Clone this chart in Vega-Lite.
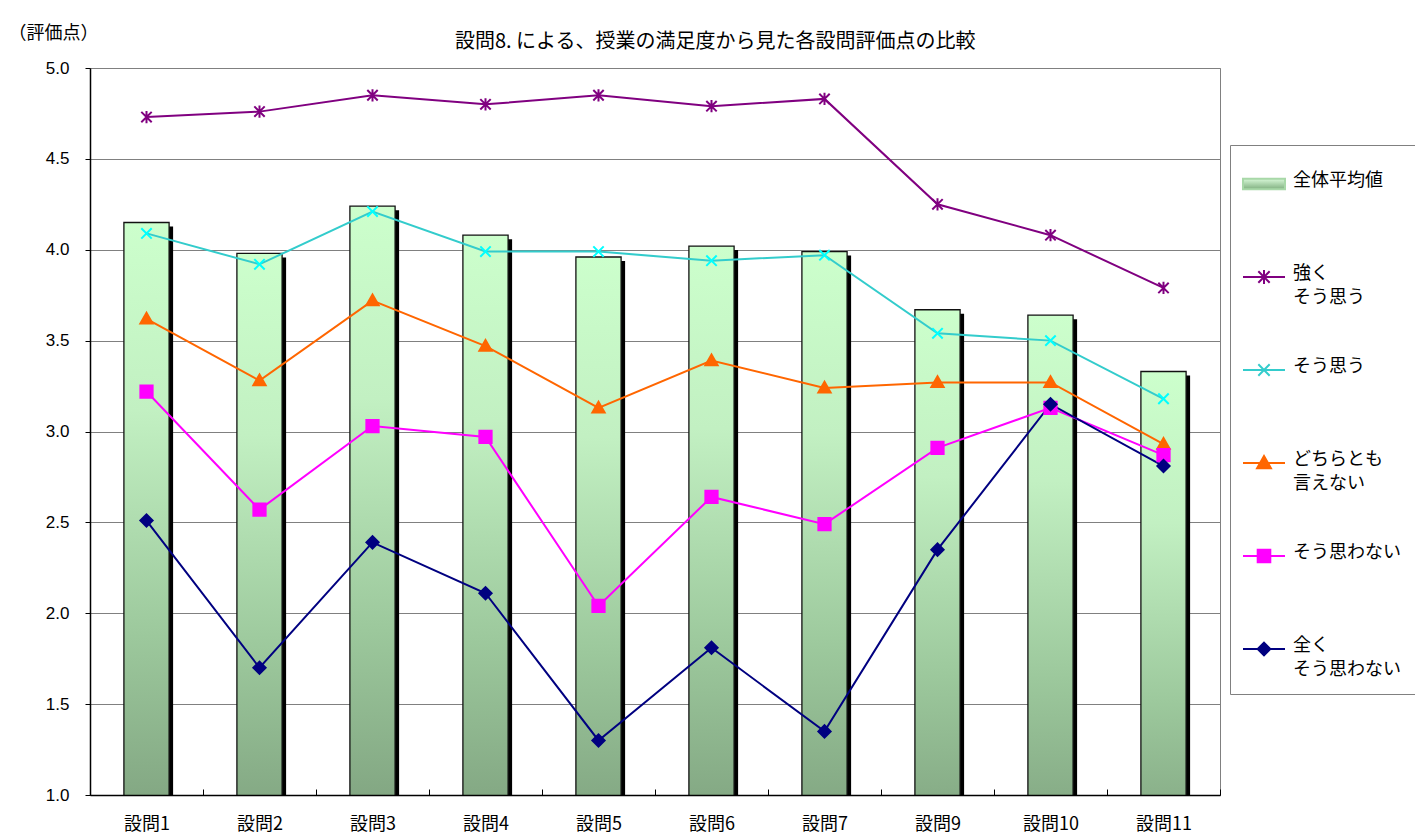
{
  "$schema": "https://vega.github.io/schema/vega-lite/v6.json",
  "width": 1130,
  "height": 727,
  "autosize": "none",
  "padding": {"left": 90, "top": 68, "right": 195, "bottom": 44},
  "background": "white",
  "config": {
    "font": "Noto Sans CJK JP",
    "view": {"stroke": "#808080", "strokeWidth": 1}
  },
  "title": {
    "text": "設問8. による、授業の満足度から見た各設問評価点の比較",
    "fontSize": 20,
    "fontWeight": "normal",
    "color": "#000",
    "anchor": "middle",
    "frame": "bounds",
    "baseline": "middle",
    "dx": 3,
    "dy": 38,
    "offset": 0
  },
  "datasets": {
    "avg": [
      {"q": "設問1", "v": 4.15},
      {"q": "設問2", "v": 3.98},
      {"q": "設問3", "v": 4.24},
      {"q": "設問4", "v": 4.08},
      {"q": "設問5", "v": 3.96},
      {"q": "設問6", "v": 4.02},
      {"q": "設問7", "v": 3.99},
      {"q": "設問9", "v": 3.67},
      {"q": "設問10", "v": 3.64},
      {"q": "設問11", "v": 3.33}
    ],
    "lines": [
      {"q": "設問1", "s": "強くそう思う", "v": 4.73},
      {"q": "設問2", "s": "強くそう思う", "v": 4.76},
      {"q": "設問3", "s": "強くそう思う", "v": 4.85},
      {"q": "設問4", "s": "強くそう思う", "v": 4.80},
      {"q": "設問5", "s": "強くそう思う", "v": 4.85},
      {"q": "設問6", "s": "強くそう思う", "v": 4.79},
      {"q": "設問7", "s": "強くそう思う", "v": 4.83},
      {"q": "設問9", "s": "強くそう思う", "v": 4.25},
      {"q": "設問10", "s": "強くそう思う", "v": 4.08},
      {"q": "設問11", "s": "強くそう思う", "v": 3.79},
      {"q": "設問1", "s": "そう思う", "v": 4.09},
      {"q": "設問2", "s": "そう思う", "v": 3.92},
      {"q": "設問3", "s": "そう思う", "v": 4.21},
      {"q": "設問4", "s": "そう思う", "v": 3.99},
      {"q": "設問5", "s": "そう思う", "v": 3.99},
      {"q": "設問6", "s": "そう思う", "v": 3.94},
      {"q": "設問7", "s": "そう思う", "v": 3.97},
      {"q": "設問9", "s": "そう思う", "v": 3.54},
      {"q": "設問10", "s": "そう思う", "v": 3.50},
      {"q": "設問11", "s": "そう思う", "v": 3.18},
      {"q": "設問1", "s": "どちらとも言えない", "v": 3.62},
      {"q": "設問2", "s": "どちらとも言えない", "v": 3.28},
      {"q": "設問3", "s": "どちらとも言えない", "v": 3.72},
      {"q": "設問4", "s": "どちらとも言えない", "v": 3.47},
      {"q": "設問5", "s": "どちらとも言えない", "v": 3.13},
      {"q": "設問6", "s": "どちらとも言えない", "v": 3.39},
      {"q": "設問7", "s": "どちらとも言えない", "v": 3.24},
      {"q": "設問9", "s": "どちらとも言えない", "v": 3.27},
      {"q": "設問10", "s": "どちらとも言えない", "v": 3.27},
      {"q": "設問11", "s": "どちらとも言えない", "v": 2.93},
      {"q": "設問1", "s": "そう思わない", "v": 3.22},
      {"q": "設問2", "s": "そう思わない", "v": 2.57},
      {"q": "設問3", "s": "そう思わない", "v": 3.03},
      {"q": "設問4", "s": "そう思わない", "v": 2.97},
      {"q": "設問5", "s": "そう思わない", "v": 2.04},
      {"q": "設問6", "s": "そう思わない", "v": 2.64},
      {"q": "設問7", "s": "そう思わない", "v": 2.49},
      {"q": "設問9", "s": "そう思わない", "v": 2.91},
      {"q": "設問10", "s": "そう思わない", "v": 3.13},
      {"q": "設問11", "s": "そう思わない", "v": 2.87},
      {"q": "設問1", "s": "全くそう思わない", "v": 2.51},
      {"q": "設問2", "s": "全くそう思わない", "v": 1.70},
      {"q": "設問3", "s": "全くそう思わない", "v": 2.39},
      {"q": "設問4", "s": "全くそう思わない", "v": 2.11},
      {"q": "設問5", "s": "全くそう思わない", "v": 1.30},
      {"q": "設問6", "s": "全くそう思わない", "v": 1.81},
      {"q": "設問7", "s": "全くそう思わない", "v": 1.35},
      {"q": "設問9", "s": "全くそう思わない", "v": 2.35},
      {"q": "設問10", "s": "全くそう思わない", "v": 3.15},
      {"q": "設問11", "s": "全くそう思わない", "v": 2.81}
    ]
  },
  "encoding": {
    "x": {
      "field": "q",
      "type": "nominal",
      "sort": null,
      "scale": {"paddingInner": 0, "paddingOuter": 0},
      "axis": {
        "title": null,
        "labelAngle": 0,
        "labelFontSize": 18,
        "labelColor": "#000",
        "labelPadding": 26,
        "tickBand": "extent",
        "tickSize": -6,
        "tickColor": "#000",
        "domainColor": "#000",
        "domainWidth": 1.5,
        "zindex": 1
      }
    },
    "y": {
      "field": "v",
      "type": "quantitative",
      "scale": {"domain": [1, 5], "nice": false, "zero": false},
      "axis": {
        "title": "（評価点）",
        "titleAngle": 0,
        "titleFontSize": 18,
        "titleFontWeight": "normal",
        "titleColor": "#000",
        "titleAlign": "left",
        "titleBaseline": "middle",
        "titleX": -82,
        "titleY": -35,
        "values": [1, 1.5, 2, 2.5, 3, 3.5, 4, 4.5, 5],
        "format": ".1f",
        "labelFontSize": 17,
        "labelFont": "Liberation Sans",
        "labelColor": "#000",
        "labelPadding": 16,
        "tickSize": 5,
        "tickColor": "#000",
        "domainColor": "#000",
        "domainWidth": 1.5,
        "gridColor": "#808080",
        "gridWidth": 1
      }
    }
  },
  "layer": [
    {
      "data": {"name": "avg"},
      "mark": {"type": "bar", "color": "#000", "width": {"band": 0.4}, "xOffset": 4, "yOffset": 4, "clip": true}
    },
    {
      "data": {"name": "avg"},
      "mark": {
        "type": "bar",
        "clip": true,
        "width": {"band": 0.4},
        "stroke": "#111",
        "strokeWidth": 1.3,
        "fill": {
          "gradient": "linear",
          "x1": 0, "y1": 0, "x2": 0, "y2": 1,
          "stops": [
            {"offset": 0, "color": "#ccffcc"},
            {"offset": 0.25, "color": "#c2f0c2"},
            {"offset": 0.55, "color": "#9cc89c"},
            {"offset": 0.8, "color": "#7fa27f"},
            {"offset": 1, "color": "#5f825f"}
          ]
        }
      }
    },
    {
      "data": {"name": "lines"},
      "mark": {"type": "line", "strokeWidth": 2},
      "encoding": {
        "color": {
          "field": "s",
          "type": "nominal",
          "scale": {
            "domain": ["全体平均値", "強くそう思う", "そう思う", "どちらとも言えない", "そう思わない", "全くそう思わない"],
            "range": ["#a8d8a8", "#800080", "#33cccc", "#ff6600", "#ff00ff", "#000080"]
          },
          "legend": {
            "title": " ",
            "titleFontSize": 13,
            "titlePadding": 2,
            "orient": "none",
            "legendX": 1140,
            "legendY": 77,
            "padding": 15,
            "strokeColor": "#808080",
            "fillColor": "white",
            "labelFontSize": 18,
            "labelColor": "#000",
            "labelLimit": 200,
            "labelOffset": 20,
            "labelBaseline": "top",
            "symbolOffset": 10,
            "labelExpr": "datum.value === '強くそう思う' ? ['強く', 'そう思う'] : datum.value === 'どちらとも言えない' ? ['どちらとも', '言えない'] : datum.value === '全くそう思わない' ? ['全く', 'そう思わない'] : [datum.value, '']",
            "rowPadding": 51,
            "symbolSize": 1764,
            "symbolStrokeWidth": 2,
            "encode": {
              "labels": {"update": {"lineHeight": {"value": 24}, "dy": {"value": -12}}},
              "symbols": {
                "update": {
                  "shape": {"signal": "datum.value === '全体平均値' ? 'M-1,-0.25L1,-0.25L1,0.25L-1,0.25Z' : datum.value === '強くそう思う' ? 'M-1,0L1,0M0,-0.33L0,0.33M-0.27,-0.27L0.27,0.27M-0.27,0.27L0.27,-0.27' : datum.value === 'そう思う' ? 'M-1,0L1,0M-0.27,-0.27L0.27,0.27M-0.27,0.27L0.27,-0.27' : datum.value === 'どちらとも言えない' ? 'M-1,0L1,0M0,-0.33L0.33,0.25L-0.33,0.25Z' : datum.value === 'そう思わない' ? 'M-1,0L1,0M-0.3,-0.3L0.3,-0.3L0.3,0.3L-0.3,0.3Z' : 'M-1,0L1,0M0,-0.3L0.3,0L0,0.3L-0.3,0Z'"},
                  "fill": {"signal": "datum.value === '全体平均値' ? {gradient: 'linear', x1: 0, y1: 0, x2: 0, y2: 1, stops: [{offset: 0, color: '#d8f8d8'}, {offset: 1, color: '#80b080'}]} : datum.value === 'そう思う' ? '#00ffff' : scale('color', datum.value)"},
                  "stroke": {"signal": "datum.value === '全体平均値' ? '#000' : scale('color', datum.value)"},
                  "strokeWidth": {"signal": "datum.value === '全体平均値' ? 2 : 2"},
                  "opacity": {"value": 1}
                }
              }
            }
          }
        }
      }
    },
    {
      "data": {"name": "lines"},
      "mark": {"type": "point", "filled": true, "size": 150, "strokeWidth": 2, "opacity": 1},
      "encoding": {
        "fill": {
          "field": "s",
          "type": "nominal",
          "scale": {
            "domain": ["強くそう思う", "そう思う", "どちらとも言えない", "そう思わない", "全くそう思わない"],
            "range": ["#800080", "#00ffff", "#ff6600", "#ff00ff", "#000080"]
          },
          "legend": null
        },
        "stroke": {
          "field": "s",
          "type": "nominal",
          "scale": {
            "domain": ["強くそう思う", "そう思う", "どちらとも言えない", "そう思わない", "全くそう思わない"],
            "range": ["#800080", "#00ffff", "#ff6600", "#ff00ff", "#000080"]
          },
          "legend": null
        },
        "shape": {
          "field": "s",
          "type": "nominal",
          "scale": {
            "domain": ["強くそう思う", "そう思う", "どちらとも言えない", "そう思わない", "全くそう思わない"],
            "range": [
              "M0,-1L0,1M-0.85,-0.85L0.85,0.85M-0.85,0.85L0.85,-0.85",
              "M-0.85,-0.85L0.85,0.85M-0.85,0.85L0.85,-0.85",
              "M0,-1L1,0.75L-1,0.75Z",
              "square",
              "diamond"
            ]
          },
          "legend": null
        }
      }
    }
  ]
}
